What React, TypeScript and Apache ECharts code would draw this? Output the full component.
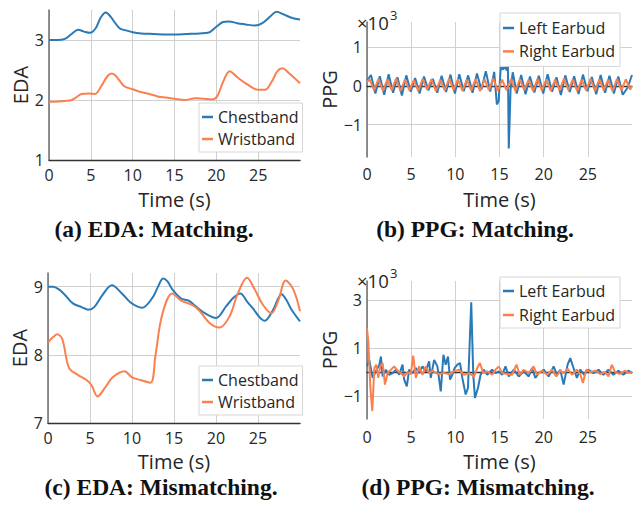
import React, { useEffect, useRef } from "react";
import * as echarts from "echarts";

const xTickValues = [0, 5, 10, 15, 20, 25];
const yTicksA = [1, 2, 3];
const yTicksB = [-1, 0, 1];
const yTicksC = [7, 8, 9];
const yTicksD = [-1, 1, 3];

const captions = ["(a) EDA: Matching.", "(b) PPG: Matching.", "(c) EDA: Mismatching.", "(d) PPG: Mismatching."];
const edaNames = ["Chestband", "Wristband"];
const ppgNames = ["Left Earbud", "Right Earbud"];

const edaMatchChest = [[0,3.0],[1,3.0],[1.9,3.02],[2.7,3.1],[3.5,3.17],[4.2,3.14],[4.9,3.12],[5.6,3.2],[6.2,3.38],[6.8,3.46],[7.4,3.38],[8.4,3.2],[9.2,3.16],[10,3.13],[11,3.11],[12.5,3.1],[14,3.09],[15,3.09],[16.5,3.1],[18,3.11],[19,3.12],[20,3.22],[20.8,3.3],[21.5,3.31],[22.5,3.28],[23.5,3.26],[24.6,3.24],[25.5,3.28],[26.5,3.4],[27.2,3.47],[28,3.43],[29,3.37],[30,3.34]];
const edaMatchWrist = [[0,1.97],[1.5,1.98],[2.5,1.99],[3.2,2.04],[3.9,2.1],[4.8,2.11],[5.5,2.1],[6.2,2.22],[7,2.4],[7.5,2.44],[8,2.4],[9,2.23],[10,2.18],[10.8,2.14],[12,2.1],[13,2.06],[14,2.04],[15,2.02],[16.2,2.0],[17.5,2.03],[18.5,2.02],[19.5,2.01],[20.1,2.06],[20.8,2.3],[21.6,2.48],[22.5,2.38],[23.6,2.27],[25,2.17],[25.8,2.17],[26.6,2.3],[27.3,2.48],[27.9,2.53],[28.6,2.46],[30,2.28]];

const ppgMatchLeft = [[0,0.13],[0.45,0.28],[0.95,-0.2],[1.45,0.25],[1.95,-0.23],[2.45,0.3],[2.95,-0.18],[3.45,0.22],[3.95,-0.25],[4.45,0.27],[4.95,-0.15],[5.45,0.2],[5.95,-0.2],[6.45,0.24],[6.95,-0.12],[7.45,0.18],[7.95,-0.18],[8.45,0.26],[8.95,-0.16],[9.45,0.29],[9.95,-0.2],[10.45,0.3],[10.95,-0.14],[11.45,0.27],[11.95,-0.18],[12.45,0.32],[12.95,-0.1],[13.45,0.38],[13.95,-0.15],[14.4,0.36],[14.7,-0.48],[14.9,-0.4],[15.15,0.5],[15.4,0.42],[15.6,0.52],[15.8,0.4],[15.95,0.52],[16.05,-1.62],[16.25,-0.1],[16.5,0.35],[16.95,-0.2],[17.45,0.28],[17.95,-0.22],[18.45,0.24],[18.95,-0.17],[19.45,0.26],[19.95,-0.2],[20.45,0.3],[20.95,-0.15],[21.45,0.22],[21.95,-0.24],[22.45,0.27],[22.95,-0.16],[23.45,0.25],[23.95,-0.21],[24.45,0.29],[24.95,-0.14],[25.45,0.23],[25.95,-0.22],[26.45,0.28],[26.95,-0.18],[27.45,0.26],[27.95,-0.2],[28.45,0.24],[28.95,-0.23],[29.5,-0.05],[30,0.28]];
const ppgMatchRight = [[0,0.1],[0.3,0.17],[0.8,-0.12],[1.3,0.18],[1.8,-0.13],[2.3,0.16],[2.8,-0.11],[3.3,0.19],[3.8,-0.14],[4.3,0.17],[4.8,-0.12],[5.3,0.15],[5.8,-0.13],[6.3,0.18],[6.8,-0.1],[7.3,0.17],[7.8,-0.14],[8.3,0.16],[8.8,-0.12],[9.3,0.19],[9.8,-0.11],[10.3,0.17],[10.8,-0.13],[11.3,0.16],[11.8,-0.12],[12.3,0.18],[12.8,-0.14],[13.3,0.17],[13.8,-0.11],[14.3,0.19],[14.8,-0.13],[15.3,0.16],[15.8,-0.12],[16.3,0.18],[16.8,-0.13],[17.3,0.17],[17.8,-0.11],[18.3,0.16],[18.8,-0.14],[19.3,0.18],[19.8,-0.12],[20.3,0.17],[20.8,-0.13],[21.3,0.16],[21.8,-0.12],[22.3,0.19],[22.8,-0.11],[23.3,0.17],[23.8,-0.14],[24.3,0.16],[24.8,-0.12],[25.3,0.18],[25.8,-0.13],[26.3,0.17],[26.8,-0.11],[27.3,0.16],[27.8,-0.14],[28.3,0.18],[28.8,-0.12],[29.3,0.17],[29.8,-0.1],[30,0.0]];

const edaMismatchChest = [[0,9.0],[0.6,9.0],[1.3,8.96],[2,8.88],[3,8.75],[4,8.7],[4.8,8.66],[5.5,8.7],[6.5,8.88],[7.6,9.02],[8.8,8.9],[9.8,8.77],[10.6,8.71],[11.2,8.69],[12.4,8.83],[13.1,9.0],[13.7,9.12],[14.2,9.08],[14.8,8.96],[15.8,8.83],[16.8,8.79],[17.6,8.71],[18.8,8.6],[20,8.54],[21.2,8.71],[22.1,8.84],[22.9,8.9],[23.7,8.78],[24.4,8.68],[25.2,8.55],[25.8,8.5],[26.8,8.66],[27.8,8.89],[28.4,8.8],[29,8.66],[30,8.49]];
const edaMismatchWrist = [[0,8.18],[0.6,8.26],[1.1,8.3],[1.7,8.23],[2.5,7.81],[3.5,7.71],[4.7,7.62],[5.2,7.55],[5.9,7.39],[6.8,7.52],[7.7,7.67],[9.1,7.76],[10,7.67],[11,7.63],[12.2,7.59],[12.8,8.0],[13.6,8.59],[14.8,8.9],[15.8,8.8],[17.2,8.73],[18,8.65],[19.2,8.47],[20.4,8.4],[21.6,8.56],[22.6,8.9],[23.7,9.13],[24.6,8.96],[25.6,8.73],[26.6,8.61],[27.4,8.79],[28.3,9.09],[29.2,8.96],[30,8.64]];

const ppgMismatchLeft = [[0,0.25],[0.26,0.52],[0.64,-0.23],[1.0,0.04],[1.4,0.32],[1.58,0.66],[1.77,-0.17],[2.14,0.11],[2.5,-0.1],[2.9,-0.03],[3.27,0.11],[3.65,-0.1],[4.02,0.32],[4.21,-0.3],[4.51,-0.58],[4.77,0.11],[5.15,-0.03],[5.53,0.18],[5.9,-0.03],[6.28,0.25],[6.65,0.04],[7.03,0.46],[7.22,-0.23],[7.6,0.52],[7.97,0.25],[8.35,-0.79],[8.65,0.73],[8.91,0.32],[9.17,0.66],[9.4,-0.3],[9.66,-0.1],[9.92,0.18],[10.23,0.32],[10.53,0.39],[10.79,-0.23],[11.17,-0.92],[11.43,-0.65],[11.8,2.91],[12.03,-0.1],[12.22,-1.06],[12.56,-0.65],[12.86,-0.1],[13.23,0.11],[13.61,-0.1],[14.17,0.11],[14.55,-0.03],[14.92,0.04],[15.3,-0.1],[15.68,0.25],[16.05,-0.17],[16.62,0.11],[17.18,-0.17],[17.74,0.04],[18.31,-0.17],[18.68,0.18],[19.06,-0.23],[19.44,-0.03],[20.0,0.11],[20.56,-0.17],[21.13,0.25],[21.5,-0.1],[21.88,0.11],[22.26,-0.51],[22.71,0.32],[23.01,0.59],[23.38,0.18],[23.76,-0.23],[24.14,0.11],[24.59,-0.1],[25.08,0.11],[25.64,-0.03],[26.2,0.11],[26.77,-0.1],[27.33,0.11],[27.89,-0.1],[28.46,0.07],[29.02,-0.1],[29.59,0.07],[30,-0.03]];
const ppgMismatchRight = [[0,1.83],[0.15,1.28],[0.38,-0.65],[0.6,-1.61],[0.83,0.18],[1.05,0.32],[1.28,-0.23],[1.5,0.25],[1.77,0.39],[2.03,-0.51],[2.33,-0.03],[2.71,0.11],[3.08,0.25],[3.46,0.07],[3.83,-0.03],[4.21,-0.17],[4.59,0.01],[4.96,-0.07],[5.23,0.7],[5.53,-0.23],[5.9,0.25],[6.28,-0.1],[6.65,0.25],[7.03,-0.03],[7.41,0.07],[7.78,-0.03],[8.16,-0.07],[8.72,-0.03],[9.29,-0.07],[9.85,0.04],[10.41,0.11],[10.98,-0.1],[11.54,-0.03],[12.11,-0.17],[12.48,0.18],[12.78,0.39],[13.16,-0.03],[13.61,0.04],[14.17,-0.1],[14.55,0.11],[14.92,0.25],[15.3,-0.03],[15.86,-0.07],[16.43,-0.1],[16.92,0.32],[17.29,-0.1],[17.74,0.11],[18.31,-0.03],[18.87,0.25],[19.25,-0.1],[19.81,0.07],[20.38,-0.1],[20.94,0.11],[21.43,-0.17],[21.88,0.07],[22.26,-0.03],[22.71,0.15],[23.2,-0.1],[23.76,0.11],[24.14,-0.07],[24.44,-0.44],[24.81,0.11],[25.26,0.01],[25.83,0.07],[26.39,-0.07],[26.95,0.01],[27.33,-0.17],[27.71,0.32],[28.08,0.01],[28.65,-0.07],[29.21,0.07],[29.59,-0.03],[30,0.01]];

const BLUE = "#2a7ab8";
const ORANGE = "#fa8050";
const FONT = "'Open Sans', 'Noto Sans', sans-serif";
const TXT = "#262626";

const fmt = (v: number) => (v < 0 ? "\u2212" + Math.abs(v) : String(v));

export default function App() {
  const ref = useRef<HTMLDivElement>(null);
  useEffect(() => {
    if (!ref.current) return;
    const chart = echarts.init(ref.current, null, { renderer: "svg" });

    const grids = [
      { left: 49, top: 10, width: 251, height: 150 },
      { left: 367, top: 22, width: 265, height: 135 },
      { left: 48, top: 273, width: 252, height: 150 },
      { left: 367, top: 281, width: 265, height: 138 },
    ];
    const yCfg = [
      { min: 1, max: 3.5, ticks: yTicksA, name: "EDA", gap: 17 },
      { min: -1.84, max: 1.65, ticks: yTicksB, name: "PPG", gap: 22 },
      { min: 7, max: 9.2, ticks: yTicksC, name: "EDA", gap: 17 },
      { min: -1.94, max: 3.8, ticks: yTicksD, name: "PPG", gap: 22 },
    ];
    const xCfg = [
      { labelMargin: 7, nameGap: 29 },
      { labelMargin: 9, nameGap: 32 },
      { labelMargin: 7, nameGap: 28 },
      { labelMargin: 10, nameGap: 32 },
    ];

    const xAxis = grids.map((_, i) => ({
      type: "value",
      gridIndex: i,
      min: 0,
      max: 30,
      name: "Time (s)",
      nameLocation: "middle",
      nameGap: xCfg[i].nameGap,
      nameTextStyle: { fontFamily: FONT, fontSize: 20, color: TXT },
      axisLine: { show: true, lineStyle: { color: "#333", width: 1.3 } },
      axisTick: { show: false, customValues: xTickValues },
      axisLabel: {
        customValues: xTickValues,
        fontFamily: FONT,
        fontSize: 16,
        color: TXT,
        margin: xCfg[i].labelMargin,
      },
      splitLine: { show: true, lineStyle: { color: "#d0d0d0", width: 1 } },
    }));

    const yAxis = grids.map((_, i) => ({
      type: "value",
      gridIndex: i,
      min: yCfg[i].min,
      max: yCfg[i].max,
      name: yCfg[i].name,
      nameLocation: "middle",
      nameGap: yCfg[i].gap,
      nameTextStyle: { fontFamily: FONT, fontSize: 20, color: TXT },
      axisLine: { show: true, onZero: false, lineStyle: { color: "#6e6e6e", width: 1.5 } },
      axisTick: { show: false, customValues: yCfg[i].ticks },
      axisLabel: {
        customValues: yCfg[i].ticks,
        formatter: (v: number) => fmt(v),
        fontFamily: FONT,
        fontSize: 16,
        color: TXT,
        margin: 5,
      },
      splitLine: { show: true, lineStyle: { color: "#d0d0d0", width: 1 } },
    }));

    const mk = (name: string, data: number[][], idx: number, color: string, smooth: boolean) => ({
      type: "line",
      name,
      xAxisIndex: idx,
      yAxisIndex: idx,
      data,
      smooth: smooth ? 0.35 : false,
      showSymbol: false,
      symbol: "none",
      clip: true,
      lineStyle: { color, width: 2 },
      itemStyle: { color },
    });

    const series = [
      mk(edaNames[0], edaMatchChest, 0, BLUE, true),
      mk(edaNames[1], edaMatchWrist, 0, ORANGE, true),
      mk(ppgNames[0], ppgMatchLeft, 1, BLUE, false),
      mk(ppgNames[1], ppgMatchRight, 1, ORANGE, false),
      mk(edaNames[0], edaMismatchChest, 2, BLUE, true),
      mk(edaNames[1], edaMismatchWrist, 2, ORANGE, true),
      mk(ppgNames[0], ppgMismatchLeft, 3, BLUE, false),
      mk(ppgNames[1], ppgMismatchRight, 3, ORANGE, false),
    ];

    const legendBase = {
      orient: "vertical",
      icon: "rect",
      itemWidth: 11,
      itemHeight: 2.5,
      selectedMode: false,
      borderColor: "#d6d6d6",
      borderWidth: 1,
      borderRadius: 0,
      backgroundColor: "#ffffff",
      textStyle: { fontFamily: FONT, fontSize: 16, color: TXT, lineHeight: 16 },
    };
    const legend = [
      { ...legendBase, left: 199, top: 103, data: edaNames, itemGap: 6, padding: [6, 4, 5, 3] },
      { ...legendBase, left: 500, top: 13, data: ppgNames, itemGap: 7.4, padding: [7, 5, 7, 3] },
      { ...legendBase, left: 199, top: 366, data: edaNames, itemGap: 6, padding: [6, 4, 5, 3] },
      { ...legendBase, left: 500, top: 277, data: ppgNames, itemGap: 8, padding: [6, 5, 5, 3] },
    ];

    const capStyle = { fontFamily: "'Liberation Serif', serif", fontWeight: "bold", fontSize: 23.5, fill: "#111", textAlign: "center", textVerticalAlign: "middle" };
    const capPos = [
      [154, 229],
      [475, 229],
      [161, 486.5],
      [478, 486.5],
    ];
    const graphic: any[] = captions.map((c, i) => ({
      type: "text",
      x: capPos[i][0],
      y: capPos[i][1],
      style: { ...capStyle, text: c },
      silent: true,
    }));
    const expPos = [
      [357, 22],
      [357, 280],
    ];
    expPos.forEach(([x, y]) => {
      graphic.push({
        type: "text",
        x,
        y,
        style: { text: "\u00d710", fontFamily: FONT, fontSize: 18.5, fill: TXT, textAlign: "left", textVerticalAlign: "middle" },
        silent: true,
      });
      graphic.push({
        type: "text",
        x: x + 33,
        y: y - 7,
        style: { text: "3", fontFamily: FONT, fontSize: 13, fill: TXT, textAlign: "left", textVerticalAlign: "middle" },
        silent: true,
      });
    });

    chart.setOption({
      animation: false,
      backgroundColor: "#ffffff",
      grid: grids,
      xAxis,
      yAxis,
      legend,
      series,
      graphic,
    } as any);
    return () => chart.dispose();
  }, []);
  return <div ref={ref} style={{ position: "absolute", left: 0, top: 0, width: 639, height: 508 }} />;
}
